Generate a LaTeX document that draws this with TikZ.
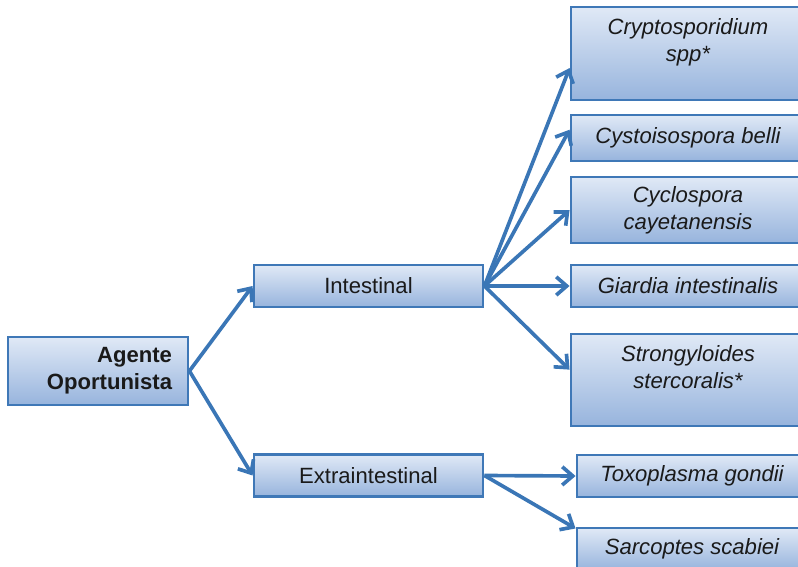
\documentclass[tikz,border=0pt]{standalone}
\usepackage{fontspec}
\setmainfont{Liberation Sans}
\usetikzlibrary{arrows.meta}
\definecolor{boxline}{HTML}{3F78B7}
\definecolor{boxtop}{HTML}{E0E9F6}
\definecolor{boxbot}{HTML}{97B4DD}
\definecolor{arrowcol}{HTML}{3A76B6}
\definecolor{txt}{HTML}{1A1A1A}

\begin{document}
\begin{tikzpicture}[x=0.025cm, y=-0.025cm, font=\fontsize{15.7}{19}\selectfont, text=txt]
 \tikzstyle{taxbox}=[rectangle,draw=boxline,line width=2pt,top color=boxtop,bottom color=boxbot,align=center,inner sep=2pt]
 \tikzstyle{rootbox}=[taxbox,minimum height=1.7cm,text width=3.7cm,inner xsep=0.4cm,align=right,font=\fontsize{15.7}{19}\selectfont\bfseries]
 \tikzstyle{midbox}=[taxbox,minimum width=5.725cm,minimum height=1.05cm]
 \tikzstyle{leafbox}=[taxbox,minimum width=5.85cm,font=\fontsize{15.7}{19}\selectfont\itshape]
 \tikzstyle{link}=[arrowcol,line width=2.6pt,-{Straight Barb[length=7.5pt,width=13pt]}]
 \useasboundingbox (0,0) rectangle (798,567);
 \clip (0,0) rectangle (798,567);
 \node[rootbox] (agente) at (98,371) {Agente\\Oportunista};
 \node[midbox] (intest) at (368.5,286) {Intestinal};
 \node[midbox] (extra) at (368.5,475.5) {Extraintestinal};
 \node[leafbox,minimum height=2.325cm] (crypto) at (688,53.5) {Cryptosporidium\\spp*\\\mbox{}};
 \node[leafbox,minimum height=1.15cm] (cysto) at (688,138) {Cystoisospora belli};
 \node[leafbox,minimum height=1.65cm] (cyclo) at (688,210) {Cyclospora\\cayetanensis};
 \node[leafbox,minimum height=1.05cm] (giardia) at (688,286) {Giardia intestinalis};
 \node[leafbox,minimum height=2.3cm] (strongy) at (688,380) {Strongyloides\\stercoralis*\\\mbox{}};
 \node[leafbox,minimum width=5.75cm,minimum height=1.05cm] (toxo) at (692,476) {Toxoplasma gondii};
 \node[leafbox,minimum width=5.75cm,minimum height=1.05cm] (sarco) at (692,549) {Sarcoptes scabiei};
 \draw[link] (agente.east) -- (intest.west);
 \draw[link] (agente.east) -- (extra.west);
 \draw[link] (intest.east) -- (crypto.187);
 \draw[link] (intest.east) -- (cysto.176);
 \draw[link] (intest.east) -- (cyclo.west);
 \draw[link] (intest.east) -- (giardia.west);
 \draw[link] (intest.east) -- (strongy.175);
 \draw[link] (extra.east) -- (toxo.west);
 \draw[link] (extra.east) -- (sarco.170);
\end{tikzpicture}
\end{document}
